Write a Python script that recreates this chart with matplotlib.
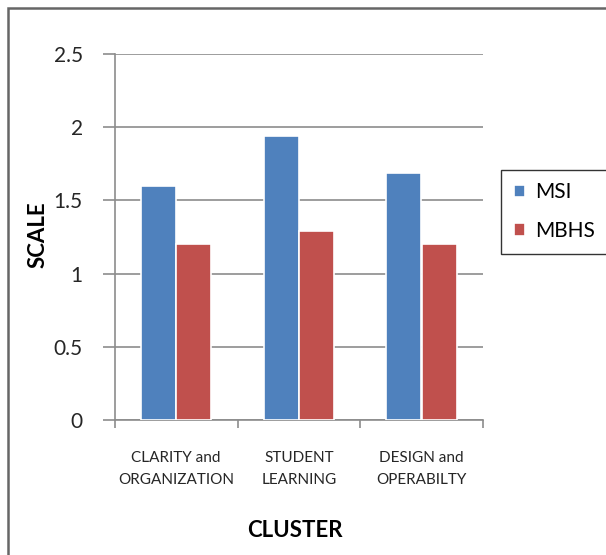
import matplotlib
matplotlib.use("Agg")
import matplotlib.pyplot as plt
import matplotlib.patches as mpatches
import numpy as np

categories = ["CLARITY and\nORGANIZATION", "STUDENT\nLEARNING", "DESIGN and\nOPERABILTY"]
msi = [1.60, 1.94, 1.69]
mbhs = [1.20, 1.29, 1.20]
series_names = ["MSI", "MBHS"]
yticks = [0, 0.5, 1, 1.5, 2, 2.5]
ytick_labels = ["0", "0.5", "1", "1.5", "2", "2.5"]

plt.rcParams['font.family'] = ['Lato', 'DejaVu Sans']

fig = plt.figure(figsize=(6.06, 5.55), dpi=100)
ax = fig.add_axes([0.1894, 0.2429, 0.797 - 0.1894, 0.903 - 0.2429])

x = np.arange(len(categories))
w = 0.285
ax.bar(x - 0.145, msi, w, color="#4F81BD", edgecolor="white", linewidth=1.2, label=series_names[0], zorder=3)
ax.bar(x + 0.145, mbhs, w, color="#C0504D", edgecolor="white", linewidth=1.2, label=series_names[1], zorder=3)

ax.set_xlim(-0.5, 2.5)
ax.set_ylim(0, 2.5)
ax.set_yticks(yticks)
ax.set_yticklabels(ytick_labels, fontsize=15, color="#262626")
ax.yaxis.grid(True, color="#8c8c8c", linewidth=1.2, zorder=0)
ax.tick_params(axis='y', length=9, width=1.2, color="#8c8c8c", pad=14)

ax.set_xticks(x)
ax.set_xticklabels(categories, fontsize=11, color="#262626", linespacing=1.75)
ax.set_xticks([-0.5, 0.5, 1.5, 2.5], minor=True)
ax.tick_params(axis='x', which='major', length=0, pad=22)
ax.tick_params(axis='x', which='minor', length=6, width=1.2, color="#8c8c8c")

for s in ["top", "right"]:
    ax.spines[s].set_visible(False)
for s in ["left", "bottom"]:
    ax.spines[s].set_color("#8c8c8c")
    ax.spines[s].set_linewidth(1.2)

fig.text(0.063, 0.578, "SCALE", rotation=90, fontsize=16, fontweight='bold', ha='center', va='center')
fig.text(0.487, 0.044, "CLUSTER", fontsize=16, fontweight='bold', ha='center', va='center')

leg = ax.legend(loc='upper left', bbox_to_anchor=(0.827, 0.694), bbox_transform=fig.transFigure,
                fontsize=15, frameon=True, fancybox=False, handlelength=0.55, handleheight=0.55,
                handletextpad=0.5, labelspacing=0.9, borderpad=0.6, borderaxespad=0)
leg.get_frame().set_edgecolor("black")
leg.get_frame().set_linewidth(1.0)

border = mpatches.Rectangle((8 / 606, -0.5), 2, 1 - 8 / 555 + 0.5, transform=fig.transFigure,
                            fill=False, edgecolor="#666666", linewidth=1.8)
fig.patches.append(border)

fig.savefig("out.png", dpi=100)
